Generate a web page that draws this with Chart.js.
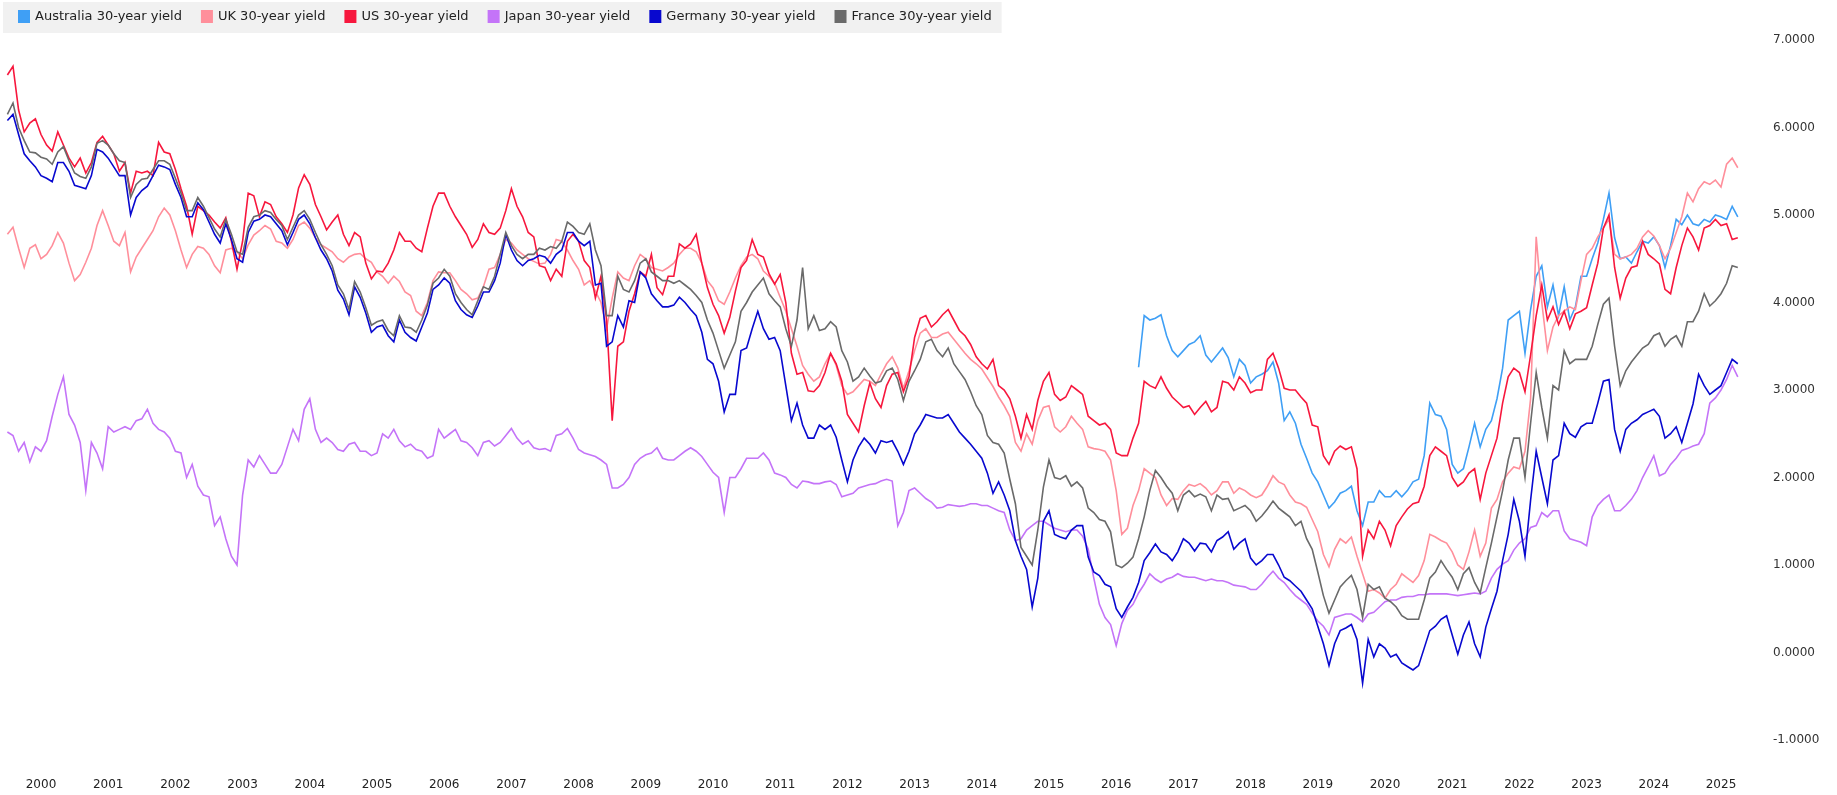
<!DOCTYPE html>
<html>
<head>
<meta charset="utf-8">
<title>30-year government bond yields</title>
<script src="https://cdn.jsdelivr.net/npm/chart.js@4.4.1/dist/chart.umd.min.js"></script>
<style>
  html, body { margin: 0; padding: 0; background: #ffffff; }
  #wrap { width: 1837px; height: 795px; }
</style>
</head>
<body>
<div id="wrap"><canvas id="yieldChart" width="1837" height="795"></canvas></div>
<script>
// monthly readings (first of month), Jan 2000 .. Oct 2025
const startYear = 2000;
const yearLabels = [2000, 2001, 2002, 2003, 2004, 2005, 2006, 2007, 2008, 2009, 2010, 2011, 2012,
  2013, 2014, 2015, 2016, 2017, 2018, 2019, 2020, 2021, 2022, 2023, 2024, 2025];
const yTicks = [-1, 0, 1, 2, 3, 4, 5, 6, 7];

const seriesNames = ['Australia 30-year yield', 'UK 30-year yield', 'US 30-year yield',
  'Japan 30-year yield', 'Germany 30-year yield', 'France 30y-year yield'];
const seriesColors = ['#3f9ff5', '#ff8f9b', '#f7173d', '#c474f8', '#0808cf', '#6a6a6a'];

// Australia only starts Nov 2016
const australia = [
  3.26, 3.85,
  3.80, 3.82, 3.86, 3.62, 3.45, 3.38, 3.45, 3.52, 3.55, 3.62, 3.40, 3.32,
  3.40, 3.48, 3.37, 3.15, 3.35, 3.28, 3.08, 3.15, 3.18, 3.22, 3.32, 3.08,
  2.65, 2.75, 2.62, 2.38, 2.22, 2.05, 1.95, 1.80, 1.65, 1.72, 1.82, 1.85,
  1.90, 1.62, 1.45, 1.72, 1.72, 1.85, 1.78, 1.78, 1.85, 1.78, 1.85, 1.95,
  1.98, 2.25, 2.85, 2.72, 2.70, 2.55, 2.15, 2.05, 2.10, 2.35, 2.62, 2.35,
  2.55, 2.65, 2.90, 3.25, 3.80, 3.85, 3.90, 3.42, 3.92, 4.30, 4.42, 3.95,
  4.20, 3.85, 4.18, 3.80, 3.95, 4.30, 4.30, 4.50, 4.68, 4.95, 5.25, 4.74,
  4.50, 4.52, 4.45, 4.58, 4.70, 4.68, 4.75, 4.65, 4.40, 4.65, 4.95, 4.89,
  5.00, 4.90, 4.88, 4.95, 4.92, 5.00, 4.98, 4.95, 5.10, 4.98
];

const uk = [
  4.78, 4.86, 4.62, 4.40, 4.62, 4.66, 4.50, 4.55, 4.65, 4.80, 4.68, 4.45,
  4.25, 4.32, 4.46, 4.62, 4.88, 5.05, 4.88, 4.70, 4.65, 4.80, 4.35, 4.52,
  4.62, 4.72, 4.82, 4.98, 5.08, 5.00, 4.82, 4.60, 4.40, 4.55, 4.64, 4.62,
  4.55, 4.42, 4.34, 4.60, 4.62, 4.58, 4.50, 4.66, 4.77, 4.82, 4.88, 4.84,
  4.70, 4.68, 4.62, 4.72, 4.88, 4.92, 4.85, 4.74, 4.66, 4.62, 4.58, 4.50,
  4.46, 4.52, 4.55, 4.56, 4.50, 4.46, 4.35, 4.30, 4.22, 4.30, 4.24, 4.12,
  4.08, 3.90, 3.85, 4.00, 4.25, 4.35, 4.34, 4.34, 4.25, 4.15, 4.10, 4.03,
  4.05, 4.18, 4.38, 4.40, 4.55, 4.72, 4.68, 4.60, 4.55, 4.50, 4.47, 4.44,
  4.45, 4.55, 4.72, 4.70, 4.60, 4.48, 4.38, 4.20, 4.25, 4.13, 4.00, 3.70,
  4.05, 4.35, 4.28, 4.25, 4.42, 4.55, 4.50, 4.40, 4.38, 4.36, 4.40, 4.45,
  4.55, 4.62, 4.62, 4.58, 4.45, 4.25, 4.17, 4.02, 3.98, 4.12, 4.28, 4.42,
  4.52, 4.55, 4.50, 4.36, 4.30, 4.22, 4.06, 3.90, 3.70, 3.50, 3.28, 3.18,
  3.10, 3.15, 3.30, 3.42, 3.28, 3.05, 2.95, 2.98, 3.05, 3.12, 3.10, 3.05,
  3.18, 3.30, 3.38, 3.25, 3.02, 3.22, 3.45, 3.65, 3.70, 3.60, 3.60, 3.64,
  3.66, 3.58, 3.50, 3.42, 3.35, 3.30, 3.24, 3.14, 3.04, 2.92, 2.82, 2.70,
  2.40, 2.30, 2.50, 2.38, 2.65, 2.80, 2.82, 2.58, 2.52, 2.58, 2.70, 2.62,
  2.55, 2.35, 2.33, 2.32, 2.30, 2.20, 1.85, 1.35, 1.42, 1.68, 1.85, 2.10,
  2.05, 2.00, 1.80, 1.68, 1.76, 1.75, 1.85, 1.92, 1.90, 1.93, 1.88, 1.80,
  1.85, 1.95, 1.95, 1.82, 1.88, 1.85, 1.80, 1.77, 1.80, 1.90, 2.02, 1.95,
  1.92, 1.80, 1.72, 1.70, 1.66, 1.52, 1.38, 1.12, 0.98, 1.18, 1.30, 1.25,
  1.32, 1.10, 0.90, 0.70, 0.72, 0.68, 0.62, 0.72, 0.78, 0.90, 0.85, 0.80,
  0.88, 1.05, 1.35, 1.32, 1.28, 1.25, 1.15, 1.00, 0.95, 1.15, 1.40, 1.10,
  1.25, 1.65, 1.75, 1.95, 2.05, 2.12, 2.10, 2.30, 2.90, 4.75, 4.00, 3.45,
  3.72, 3.85, 3.90, 3.95, 3.92, 4.25, 4.55, 4.62, 4.75, 4.85, 4.95, 4.55,
  4.50, 4.52, 4.55, 4.62, 4.75, 4.82, 4.76, 4.65, 4.50, 4.62, 4.80, 4.98,
  5.25, 5.15, 5.30, 5.38, 5.35, 5.40, 5.32, 5.58, 5.65, 5.54
];

const us = [
  6.60, 6.70, 6.20, 5.95, 6.05, 6.10, 5.92, 5.80, 5.73, 5.95, 5.80, 5.65,
  5.55, 5.65, 5.48, 5.60, 5.83, 5.90, 5.80, 5.70, 5.50, 5.60, 5.25, 5.50,
  5.48, 5.50, 5.45, 5.83, 5.72, 5.70, 5.52, 5.30, 5.10, 4.78, 5.10, 5.05,
  5.00, 4.92, 4.85, 4.97, 4.70, 4.38, 4.70, 5.25, 5.22, 4.98, 5.15, 5.12,
  4.98, 4.90, 4.80, 5.00, 5.31, 5.46, 5.35, 5.12, 4.98, 4.83, 4.92, 5.00,
  4.78, 4.65, 4.80, 4.75, 4.45, 4.27, 4.36, 4.35, 4.45, 4.60, 4.80, 4.70,
  4.70, 4.62, 4.58, 4.85, 5.10, 5.25, 5.25, 5.10, 4.98, 4.88, 4.78, 4.63,
  4.72, 4.90, 4.80, 4.78, 4.85, 5.05, 5.30, 5.10, 4.98, 4.80, 4.75, 4.42,
  4.40, 4.25, 4.38, 4.30, 4.70, 4.78, 4.70, 4.48, 4.40, 4.05, 4.30, 3.80,
  2.65, 3.50, 3.55, 3.90, 4.10, 4.35, 4.30, 4.55, 4.17, 4.09, 4.30, 4.30,
  4.67, 4.62, 4.67, 4.78, 4.45, 4.17, 3.98, 3.85, 3.65, 3.83, 4.13, 4.40,
  4.48, 4.72, 4.55, 4.52, 4.33, 4.21, 4.32, 4.00, 3.42, 3.18, 3.20, 2.99,
  2.98, 3.05, 3.20, 3.42, 3.30, 3.10, 2.72, 2.62, 2.52, 2.82, 3.08, 2.90,
  2.80, 3.05, 3.18, 3.20, 2.98, 3.15, 3.60, 3.82, 3.85, 3.72, 3.78, 3.86,
  3.92, 3.80, 3.68, 3.62, 3.52, 3.38, 3.30, 3.24, 3.35, 3.05, 3.00, 2.90,
  2.70, 2.45, 2.72, 2.55, 2.88, 3.10, 3.20, 2.95, 2.88, 2.92, 3.05, 3.00,
  2.95, 2.70, 2.65, 2.60, 2.62, 2.55, 2.28, 2.25, 2.25, 2.45, 2.62, 3.10,
  3.05, 3.02, 3.15, 3.02, 2.92, 2.86, 2.80, 2.82, 2.72, 2.80, 2.87, 2.75,
  2.80, 3.10, 3.08, 3.00, 3.15, 3.08, 2.97, 3.00, 3.00, 3.35, 3.42, 3.25,
  3.02, 3.00, 3.00, 2.92, 2.85, 2.60, 2.58, 2.25, 2.15, 2.30, 2.36, 2.32,
  2.35, 2.10, 1.10, 1.40, 1.30, 1.50, 1.40, 1.22, 1.45, 1.55, 1.64, 1.70,
  1.72, 1.90, 2.25, 2.35, 2.30, 2.25, 2.00, 1.90, 1.95, 2.05, 2.10, 1.75,
  2.05, 2.25, 2.45, 2.85, 3.15, 3.25, 3.20, 2.98, 3.40, 3.85, 4.20, 3.80,
  3.95, 3.75, 3.90, 3.70, 3.87, 3.90, 3.94, 4.20, 4.45, 4.85, 5.00, 4.40,
  4.05, 4.28, 4.40, 4.42, 4.70, 4.55, 4.50, 4.44, 4.15, 4.10, 4.40, 4.65,
  4.85, 4.75, 4.60, 4.85, 4.88, 4.95, 4.88, 4.90, 4.72, 4.74
];

const japan = [
  2.52, 2.48, 2.30, 2.40, 2.18, 2.35, 2.30, 2.42, 2.70, 2.95, 3.15, 2.72,
  2.60, 2.40, 1.85, 2.40, 2.28, 2.10, 2.58, 2.52, 2.55, 2.58, 2.55, 2.65,
  2.67, 2.78, 2.62, 2.55, 2.52, 2.45, 2.30, 2.28, 2.00, 2.15, 1.90, 1.80,
  1.78, 1.45, 1.55, 1.30, 1.10, 1.00, 1.80, 2.20, 2.12, 2.25, 2.15, 2.05,
  2.05, 2.15, 2.35, 2.55, 2.42, 2.78, 2.90, 2.55, 2.40, 2.45, 2.40, 2.32,
  2.30, 2.38, 2.40, 2.30, 2.30, 2.25, 2.28, 2.50, 2.45, 2.55, 2.42, 2.35,
  2.38, 2.32, 2.30, 2.22, 2.25, 2.55, 2.45, 2.50, 2.55, 2.42, 2.40, 2.34,
  2.25, 2.40, 2.42, 2.36, 2.40, 2.48, 2.56, 2.45, 2.38, 2.42, 2.34, 2.32,
  2.33, 2.30, 2.48, 2.50, 2.56, 2.45, 2.32, 2.28, 2.26, 2.24, 2.20, 2.15,
  1.88, 1.88, 1.92, 2.00, 2.15, 2.22, 2.26, 2.28, 2.34, 2.22, 2.20, 2.20,
  2.25, 2.30, 2.34, 2.30, 2.24, 2.15, 2.06, 2.00, 1.60, 2.00, 2.00, 2.10,
  2.22, 2.22, 2.22, 2.28, 2.20, 2.05, 2.03, 2.00, 1.92, 1.88, 1.96, 1.95,
  1.93, 1.93, 1.95, 1.96, 1.92, 1.78, 1.80, 1.82, 1.88, 1.90, 1.92, 1.93,
  1.96, 1.98, 1.96, 1.45, 1.60, 1.85, 1.88, 1.82, 1.76, 1.72, 1.65, 1.66,
  1.69, 1.68, 1.67, 1.68, 1.70, 1.70, 1.68, 1.68, 1.65, 1.62, 1.60, 1.40,
  1.28, 1.30, 1.40, 1.45, 1.50, 1.50, 1.46, 1.42, 1.40, 1.38, 1.40, 1.40,
  1.33, 1.18, 0.85, 0.55, 0.40, 0.32, 0.08, 0.33, 0.48, 0.55, 0.68, 0.78,
  0.90, 0.84, 0.80, 0.84, 0.86, 0.90, 0.87, 0.86, 0.86, 0.84, 0.82, 0.84,
  0.82, 0.82, 0.80, 0.77, 0.76, 0.75, 0.72, 0.72, 0.78, 0.86, 0.93, 0.85,
  0.80, 0.72, 0.65, 0.60, 0.55, 0.45, 0.36, 0.30, 0.20, 0.40, 0.42, 0.44,
  0.44, 0.40, 0.35, 0.44, 0.46, 0.52, 0.58, 0.60, 0.60, 0.63, 0.64, 0.64,
  0.66, 0.66, 0.67, 0.67, 0.67, 0.67, 0.66, 0.65, 0.66, 0.67, 0.68, 0.67,
  0.70, 0.85, 0.95, 1.01, 1.05, 1.17, 1.25, 1.30, 1.43, 1.45, 1.60, 1.55,
  1.62, 1.62, 1.39, 1.30, 1.28, 1.26, 1.22, 1.55, 1.68, 1.75, 1.80, 1.62,
  1.62, 1.68, 1.75, 1.85, 2.00, 2.12, 2.25, 2.02, 2.05, 2.15, 2.22, 2.31,
  2.33, 2.36, 2.38, 2.50, 2.85, 2.91, 3.00, 3.12, 3.28, 3.15
];

const germany = [
  6.08, 6.15, 5.92, 5.70, 5.62, 5.55, 5.45, 5.42, 5.38, 5.60, 5.60, 5.50,
  5.34, 5.32, 5.30, 5.45, 5.75, 5.72, 5.65, 5.55, 5.45, 5.45, 5.00, 5.20,
  5.28, 5.33, 5.45, 5.57, 5.55, 5.52, 5.35, 5.20, 4.98, 4.98, 5.14, 5.06,
  4.92, 4.78, 4.68, 4.90, 4.72, 4.50, 4.46, 4.80, 4.93, 4.95, 5.00, 4.98,
  4.90, 4.82, 4.66, 4.80, 4.95, 5.00, 4.90, 4.74, 4.60, 4.50, 4.36, 4.14,
  4.04, 3.86, 4.18, 4.06, 3.88, 3.66, 3.72, 3.74, 3.62, 3.55, 3.80, 3.66,
  3.60, 3.56, 3.72, 3.88, 4.15, 4.20, 4.28, 4.22, 4.02, 3.92, 3.86, 3.83,
  3.96, 4.12, 4.12, 4.25, 4.45, 4.78, 4.60, 4.48, 4.42, 4.48, 4.50, 4.54,
  4.52, 4.45, 4.55, 4.60, 4.80, 4.80, 4.70, 4.65, 4.70, 4.20, 4.22, 3.50,
  3.55, 3.85, 3.72, 4.02, 4.00, 4.35, 4.28, 4.10, 4.02, 3.95, 3.95, 3.97,
  4.06, 4.00, 3.92, 3.85, 3.66, 3.35, 3.30, 3.10, 2.75, 2.95, 2.95, 3.45,
  3.48, 3.70, 3.90, 3.70, 3.58, 3.60, 3.45, 3.05, 2.65, 2.85, 2.60, 2.45,
  2.45, 2.60, 2.55, 2.60, 2.46, 2.20, 1.95, 2.20, 2.35, 2.45, 2.38, 2.28,
  2.42, 2.40, 2.42, 2.30, 2.15, 2.30, 2.50, 2.60, 2.72, 2.70, 2.68, 2.68,
  2.72, 2.62, 2.52, 2.45, 2.38, 2.30, 2.22, 2.05, 1.82, 1.95, 1.80, 1.62,
  1.28, 1.10, 0.95, 0.52, 0.85, 1.50, 1.62, 1.35, 1.32, 1.30, 1.40, 1.45,
  1.45, 1.09, 0.92, 0.88, 0.78, 0.75, 0.50, 0.40, 0.52, 0.63, 0.80, 1.05,
  1.14, 1.24, 1.15, 1.12, 1.05, 1.15, 1.30, 1.25, 1.16, 1.25, 1.24, 1.15,
  1.28, 1.32, 1.38, 1.18, 1.25, 1.30, 1.08, 1.00, 1.05, 1.12, 1.12, 1.00,
  0.86, 0.82, 0.76, 0.70, 0.60, 0.50, 0.30, 0.10, -0.15, 0.10, 0.25, 0.28,
  0.32, 0.15, -0.35, 0.15, -0.05, 0.10, 0.05, -0.05, -0.02, -0.12, -0.16, -0.20,
  -0.15, 0.05, 0.25, 0.30, 0.38, 0.42, 0.20, -0.02, 0.20, 0.35, 0.10, -0.05,
  0.29, 0.50, 0.70, 1.05, 1.35, 1.75, 1.50, 1.10, 1.74, 2.30, 2.00, 1.70,
  2.20, 2.25, 2.62, 2.50, 2.46, 2.58, 2.62, 2.62, 2.85, 3.10, 3.12, 2.55,
  2.30, 2.55, 2.62, 2.66, 2.72, 2.75, 2.78, 2.70, 2.45, 2.50, 2.58, 2.40,
  2.62, 2.84, 3.18, 3.05, 2.95, 3.00, 3.05, 3.20, 3.35, 3.30
];

const france = [
  6.15, 6.28, 6.00, 5.85, 5.72, 5.71, 5.66, 5.64, 5.58, 5.72, 5.78, 5.62,
  5.48, 5.44, 5.42, 5.55, 5.82, 5.85, 5.80, 5.70, 5.62, 5.60, 5.20, 5.35,
  5.41, 5.42, 5.52, 5.62, 5.62, 5.58, 5.42, 5.25, 5.05, 5.05, 5.20, 5.10,
  4.97, 4.84, 4.75, 4.95, 4.78, 4.58, 4.55, 4.86, 4.98, 5.00, 5.05, 5.03,
  4.95, 4.88, 4.72, 4.86, 5.00, 5.05, 4.95, 4.80, 4.66, 4.55, 4.42, 4.20,
  4.10, 3.92, 4.24, 4.12, 3.94, 3.74, 3.78, 3.80, 3.68, 3.62, 3.85, 3.72,
  3.71, 3.66, 3.80, 3.97, 4.22, 4.28, 4.38, 4.30, 4.10, 4.00, 3.92, 3.86,
  4.02, 4.18, 4.15, 4.30, 4.55, 4.80, 4.65, 4.55, 4.50, 4.55, 4.55, 4.62,
  4.60, 4.64, 4.62, 4.70, 4.92, 4.87, 4.80, 4.78, 4.90, 4.60, 4.42, 3.85,
  3.85, 4.30, 4.15, 4.12, 4.25, 4.45, 4.50, 4.35, 4.30, 4.25, 4.25, 4.22,
  4.25, 4.20, 4.15, 4.08, 4.00, 3.80, 3.65, 3.45, 3.25, 3.40, 3.55, 3.90,
  4.00, 4.12, 4.20, 4.28, 4.10, 4.02, 3.95, 3.70, 3.50, 3.80, 4.40, 3.70,
  3.85, 3.68, 3.70, 3.78, 3.72, 3.45, 3.32, 3.10, 3.15, 3.25, 3.16, 3.08,
  3.10, 3.22, 3.25, 3.12, 2.88, 3.10, 3.22, 3.35, 3.55, 3.58, 3.45, 3.38,
  3.48, 3.30, 3.21, 3.12, 2.98, 2.82, 2.72, 2.48, 2.40, 2.38, 2.28, 1.98,
  1.70, 1.20, 1.10, 1.00, 1.40, 1.89, 2.20, 2.00, 1.98, 2.02, 1.90, 1.95,
  1.88, 1.65, 1.60, 1.52, 1.50, 1.38, 1.00, 0.97, 1.02, 1.09, 1.30, 1.55,
  1.85, 2.08, 2.00, 1.90, 1.82, 1.62, 1.80, 1.85, 1.78, 1.81, 1.78, 1.62,
  1.80, 1.75, 1.76, 1.62, 1.65, 1.68, 1.62, 1.50, 1.56, 1.64, 1.73, 1.65,
  1.60, 1.55, 1.45, 1.50, 1.30, 1.18, 0.92, 0.65, 0.45, 0.60, 0.75, 0.82,
  0.88, 0.72, 0.40, 0.78, 0.72, 0.75, 0.62, 0.58, 0.52, 0.42, 0.38, 0.38,
  0.38, 0.60, 0.85, 0.92, 1.05, 0.95, 0.86, 0.72, 0.90, 0.97, 0.80, 0.68,
  0.97, 1.25, 1.55, 1.85, 2.20, 2.45, 2.45, 2.00, 2.62, 3.20, 2.80, 2.45,
  3.05, 3.00, 3.45, 3.30, 3.35, 3.35, 3.35, 3.50, 3.75, 3.98, 4.05, 3.50,
  3.05, 3.22, 3.32, 3.40, 3.48, 3.52, 3.62, 3.65, 3.50, 3.58, 3.62, 3.50,
  3.78, 3.78, 3.90, 4.10, 3.96, 4.02, 4.10, 4.22, 4.42, 4.40
];

const seriesValues = [australia, uk, us, japan, germany, france];
const monthCount = uk.length;

// every series ends in the same month; shorter ones start later
function toPoints(values) {
  const offset = monthCount - values.length;
  return values.map((v, i) => ({ x: startYear + (offset + i) / 12, y: v }));
}

const datasets = seriesValues.map((values, i) => ({
  label: seriesNames[i],
  data: toPoints(values),
  borderColor: seriesColors[i],
  backgroundColor: seriesColors[i],
  borderWidth: 1.6,
  pointRadius: 0,
  tension: 0,
  fill: false,
  order: -i   // later series drawn on top
}));

// legend strip in the top-left corner
const legendStrip = {
  id: 'legendStrip',
  afterDraw(chart) {
    const ctx = chart.ctx;
    const gap = 19;
    ctx.save();
    ctx.font = '13px "DejaVu Sans"';
    ctx.textBaseline = 'middle';
    const widths = chart.data.datasets.map(ds => ctx.measureText(ds.label).width);
    let end = 18;
    widths.forEach(w => { end += 17 + w + gap; });
    ctx.fillStyle = '#f1f1f1';
    ctx.fillRect(3, 2, end - gap + 10 - 3, 31);
    let x = 18;
    chart.data.datasets.forEach((ds, i) => {
      ctx.fillStyle = ds.borderColor;
      ctx.fillRect(x, 10, 12, 13);
      ctx.fillStyle = '#222222';
      ctx.fillText(ds.label, x + 17, 17);
      x += 17 + widths[i] + gap;
    });
    ctx.restore();
  }
};

Chart.defaults.font.family = '"DejaVu Sans", sans-serif';

const ctx = document.getElementById('yieldChart').getContext('2d');
const yieldChart = new Chart(ctx, {
  type: 'line',
  data: { datasets: datasets },
  options: {
    responsive: false,
    animation: false,
    parsing: false,
    layout: { padding: { top: 10, left: 0, right: 0, bottom: 0 } },
    plugins: {
      legend: { display: false },
      tooltip: { enabled: false }
    },
    scales: {
      x: {
        type: 'linear',
        min: 1999.8899,
        max: 2025.7828,
        grid: { display: false, drawTicks: false },
        border: { display: false },
        afterBuildTicks: scale => {
          scale.ticks = yearLabels.map(y => ({ value: y + 0.5 }));
        },
        afterFit: scale => {
          scale.height = 21;
          scale.paddingLeft = 0;
          scale.paddingRight = 0;
        },
        ticks: {
          padding: 4,
          autoSkip: false,
          maxRotation: 0,
          color: '#222222',
          font: { size: 12 },
          callback: value => String(Math.floor(value))
        }
      },
      y: {
        position: 'right',
        min: -1.3886,
        max: 7.3429,
        grid: { display: false, drawTicks: false },
        border: { display: false },
        afterBuildTicks: scale => {
          scale.ticks = yTicks.map(v => ({ value: v }));
        },
        afterFit: scale => {
          // keep the wide label gap from pushing the plot area in
          scale.width = 97;
          scale.paddingTop = 0;
          scale.paddingBottom = 0;
        },
        ticks: {
          padding: 33,
          color: '#333333',
          font: { size: 12 },
          callback: value => Number(value).toFixed(4)
        }
      }
    }
  },
  plugins: [legendStrip]
});
</script>
</body>
</html>
